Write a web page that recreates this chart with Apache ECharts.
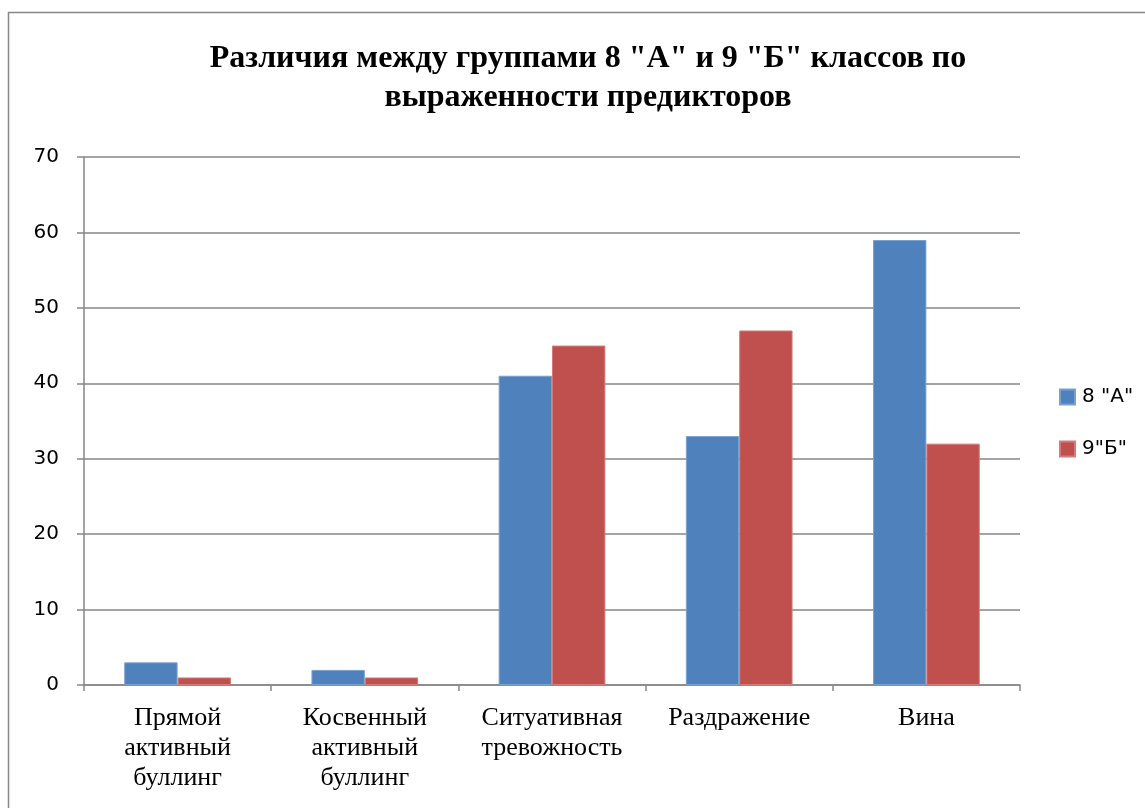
<!DOCTYPE html>
<html>
<head>
<meta charset="utf-8">
<script src="https://cdn.jsdelivr.net/npm/echarts@6/dist/echarts.min.js"></script>
<style>
    html, body { margin: 0; padding: 0; background: #fff; }
    #chart { width: 1145px; height: 808px; }
</style>
</head>
<body>
<div id="chart"></div>
<script>
    // данные диаграммы
    const categories = ['Прямой\nактивный\nбуллинг', 'Косвенный\nактивный\nбуллинг', 'Ситуативная\nтревожность', 'Раздражение', 'Вина'];
    const seriesNames = ['8 "А"', '9"Б"'];
    const values8A = [3, 2, 41, 33, 59];
    const values9B = [1, 1, 45, 47, 32];
    const yTicks = { min: 0, max: 70, interval: 10 };

    const chart = echarts.init(document.getElementById('chart'));
    const gridColor = '#868686';

    const option = {
        animation: false,
        backgroundColor: '#fff',
        graphic: [
            {
                type: 'rect',
                shape: { x: 8.5, y: 12.5, width: 1160, height: 820 },
                style: { fill: 'none', stroke: '#888', lineWidth: 1.5 },
                silent: true
            }
        ],
        title: {
            text: 'Различия между группами 8 "А" и 9 "Б" классов по\nвыраженности предикторов',
            left: 583,
            top: 34,
            textAlign: 'center',
            textStyle: {
                fontFamily: 'Liberation Serif',
                fontSize: 32,
                fontWeight: 'bold',
                color: '#000',
                lineHeight: 39
            }
        },
        legend: {
            orient: 'vertical',
            left: 1054,
            top: 382,
            itemWidth: 15,
            itemHeight: 15,
            itemGap: 32,
            icon: 'rect',
            textStyle: { fontFamily: 'DejaVu Sans', fontSize: 20, color: '#000', lineHeight: 15, padding: [0, 0, 0, 2] },
            data: seriesNames
        },
        grid: { left: 84, right: 125, top: 157, bottom: 123 },
        xAxis: {
            type: 'category',
            data: categories,
            axisLine: { lineStyle: { color: gridColor, width: 1.5 } },
            axisTick: { show: true, length: 6, interval: 0, lineStyle: { color: gridColor, width: 1.5 } },
            axisLabel: {
                interval: 0,
                margin: 18,
                fontFamily: 'Liberation Serif',
                fontSize: 26,
                lineHeight: 30,
                color: '#000'
            }
        },
        yAxis: {
            type: 'value',
            min: yTicks.min,
            max: yTicks.max,
            interval: yTicks.interval,
            axisLine: { show: true, lineStyle: { color: gridColor, width: 1.5 } },
            axisTick: { show: true, length: 7, lineStyle: { color: gridColor, width: 1.5 } },
            splitLine: { lineStyle: { color: gridColor, width: 1.5 } },
            axisLabel: {
                margin: 25,
                fontFamily: 'DejaVu Sans',
                fontSize: 20,
                color: '#000'
            }
        },
        series: [
            {
                name: seriesNames[0],
                type: 'bar',
                data: values8A,
                barGap: '0%',
                barCategoryGap: '43%',
                itemStyle: { color: '#4F81BD', borderColor: '#7BA0CF', borderWidth: 1 }
            },
            {
                name: seriesNames[1],
                type: 'bar',
                data: values9B,
                itemStyle: { color: '#C0504D', borderColor: '#D27B79', borderWidth: 1 }
            }
        ]
    };

    chart.setOption(option);
</script>
</body>
</html>
